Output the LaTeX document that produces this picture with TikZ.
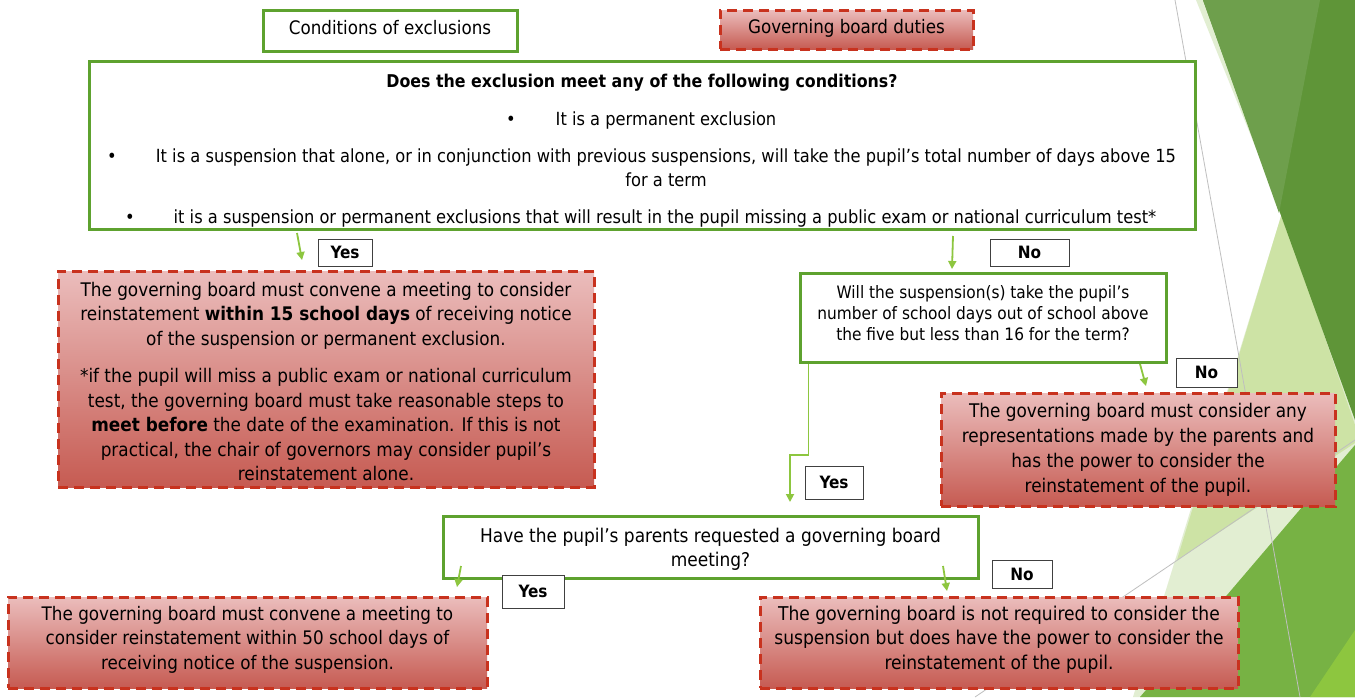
\documentclass[tikz,border=0pt]{standalone}
\usepackage{fontspec}
\setmainfont{DejaVu Sans Condensed}
\usetikzlibrary{arrows.meta,calc}
\definecolor{gborder}{HTML}{5EA22F}
\definecolor{rborder}{HTML}{C8321E}
\definecolor{rtop}{HTML}{EBBDBC}
\definecolor{rbot}{HTML}{C65B52}
\definecolor{arrg}{HTML}{8DC63F}
\definecolor{bgpale}{HTML}{E2EED2}
\definecolor{bglm}{HTML}{CDE3A5}
\definecolor{bgdark}{HTML}{5F9538}
\definecolor{bgdarkl}{HTML}{6E9F4C}
\definecolor{bgmed}{HTML}{77B244}
\definecolor{bgbright}{HTML}{8DC63F}
\tikzset{
  gbox/.style={draw=gborder, line width=3pt, fill=white, inner sep=0pt},
  rbox/.style={draw=rborder, line width=3pt, dash pattern=on 10pt off 6pt,
    top color=rtop, bottom color=rbot, inner sep=0pt},
  lbl/.style={draw=black!75, line width=1pt, fill=white, inner sep=0pt,
    font=\fontsize{17}{19}\selectfont\bfseries},
  arr/.style={draw=arrg, line width=1.8pt, -{Triangle[width=8pt,length=8pt]}},
  txt/.style={inner sep=0pt, anchor=mid},
  btxt/.style={inner sep=0pt, anchor=center, align=center},
  bgline/.style={draw=black!25, line width=0.8pt}
}
\begin{document}
\begin{tikzpicture}[x=1pt,y=-1pt]
\useasboundingbox (0,0) rectangle (1355,697);
\fill[white] (0,0) rectangle (1355,697);
% background facets
\fill[bgpale] (1196,0) -- (1282,213) -- (1133,697) -- (1355,697) -- (1355,0) -- cycle;
\fill[bglm] (1282,213) -- (1355,425) -- (1355,443) -- (1177,560) -- cycle;
\fill[bgdark] (1203,0) -- (1355,0) -- (1355,420) -- cycle;
\fill[bgdarkl] (1203,0) -- (1320,0) -- (1279,213) -- cycle;
\fill[bgmed] (1355,445) -- (1140,697) -- (1355,697) -- cycle;
\fill[bgbright] (1310,697) -- (1355,630) -- (1355,697) -- cycle;
\draw[bgline] (1175,0) -- (1300,697);
\draw[bgline] (1355,440) -- (975,697);

% legend boxes
\node[gbox, minimum width=254pt, minimum height=41pt] (cond) at (390,30.5) {};
\node[btxt, font=\fontsize{18.6}{22}\selectfont] (condt) at (390,27.5) {Conditions of exclusions};
\node[rbox, minimum width=253pt, minimum height=39pt] (duties) at (846.5,29.5) {};
\node[btxt, font=\fontsize{18.6}{22}\selectfont] (dutiest) at (846.5,28.5) {Governing board duties};

% main question box
\node[gbox, minimum width=1106pt, minimum height=168pt] (main) at (642,145) {};
\begin{scope}[every node/.style={txt, font=\fontsize{18.1}{24}\selectfont}]
\node[font=\fontsize{17.6}{24}\selectfont\bfseries] (t0) at (642,84.5) {Does the exclusion meet any of the following conditions?};
\node (b1) at (511,122.5) {•};
\node (t1) at (666,122.5) {It is a permanent exclusion};
\node (b2) at (112,159.5) {•};
\node (t2) at (666,159.5) {It is a suspension that alone, or in conjunction with previous suspensions, will take the pupil's total number of days above 15};
\node (t2b) at (666,183.5) {for a term};
\node (b3) at (130,220.5) {•};
\node (t3) at (665,220.5) {it is a suspension or permanent exclusions that will result in the pupil missing a public exam or national curriculum test*};
\end{scope}

% left yes branch
\node[lbl, minimum width=54pt, minimum height=27pt] (yes1) at (345,252.5) {Yes};
\node[rbox, minimum width=536pt, minimum height=216pt] (red1) at (326,379) {};
\node[btxt, font=\fontsize{18.75}{24.5}\selectfont] (red1t) at (326,381.5)
  {The governing board must convene a meeting to consider\\
   reinstatement \textbf{within 15 school days} of receiving notice\\
   of the suspension or permanent exclusion.\\[13pt]
   *if the pupil will miss a public exam or national curriculum\\
   test, the governing board must take reasonable steps to\\
   \textbf{meet before} the date of the examination. If this is not\\
   practical, the chair of governors may consider pupil’s\\
   reinstatement alone.};

% right no branch
\node[lbl, minimum width=79pt, minimum height=27pt] (no1) at (1029.5,252.5) {No};
\node[gbox, minimum width=366pt, minimum height=89pt] (q2) at (983,317.5) {};
\node[btxt, font=\fontsize{17.1}{21}\selectfont] (q2t) at (983,313.5)
  {Will the suspension(s) take the pupil’s\\
   number of school days out of school above\\
   the five but less than 16 for the term?};
\node[lbl, minimum width=61pt, minimum height=29pt] (no2) at (1206.5,372.5) {No};
\node[rbox, minimum width=394pt, minimum height=113pt] (red2) at (1138,449.5) {};
\node[btxt, font=\fontsize{18.8}{25}\selectfont] (red2t) at (1138,450)
  {The governing board must consider any\\
   representations made by the parents and\\
   has the power to consider the\\
   reinstatement of the pupil.};
\node[lbl, minimum width=58pt, minimum height=33pt] (yes2) at (834,482.5) {Yes};
\node[gbox, minimum width=535pt, minimum height=62pt] (q3) at (710.5,547) {};
\node[btxt, font=\fontsize{18.9}{24}\selectfont] (q3t) at (710.5,549)
  {Have the pupil’s parents requested a governing board\\ meeting?};
\node[lbl, minimum width=62pt, minimum height=33pt] (yes3) at (533,591.5) {Yes};
\node[lbl, minimum width=60pt, minimum height=28pt] (no3) at (1022,574) {No};
\node[rbox, minimum width=479pt, minimum height=91pt] (red3) at (247.5,642.5) {};
\node[btxt, font=\fontsize{18.65}{24.5}\selectfont] (red3t) at (247.5,639.5)
  {The governing board must convene a meeting to\\
   consider reinstatement within 50 school days of\\
   receiving notice of the suspension.};
\node[rbox, minimum width=478pt, minimum height=91pt] (red4) at (999,642.5) {};
\node[btxt, font=\fontsize{19}{24.5}\selectfont] (red4t) at (999,639.5)
  {The governing board is not required to consider the\\
   suspension but does have the power to consider the\\
   reinstatement of the pupil.};

% connectors
\coordinate (a1s) at (297,233);
\coordinate (a1e) at (302,260);
\draw[arr] (a1s) -- (a1e);
\coordinate (a2s) at (953,236);
\coordinate (a2e) at (952,269);
\draw[arr] (a2s) -- (a2e);
\coordinate (a3s) at (1140,364);
\coordinate (a3e) at (1146,386);
\draw[arr] (a3s) -- (a3e);
\coordinate (a4s) at ([xshift=10pt]q2.south west);
\coordinate (a4m) at (790,455);
\coordinate (a4e) at (790,502);
\draw[arr] (a4s) |- (a4m) -- (a4e);
\coordinate (a5s) at (461,566);
\coordinate (a5e) at (457,587);
\draw[arr] (a5s) -- (a5e);
\coordinate (a6s) at (943,566);
\coordinate (a6e) at (947,591);
\draw[arr] (a6s) -- (a6e);
\end{tikzpicture}
\end{document}
